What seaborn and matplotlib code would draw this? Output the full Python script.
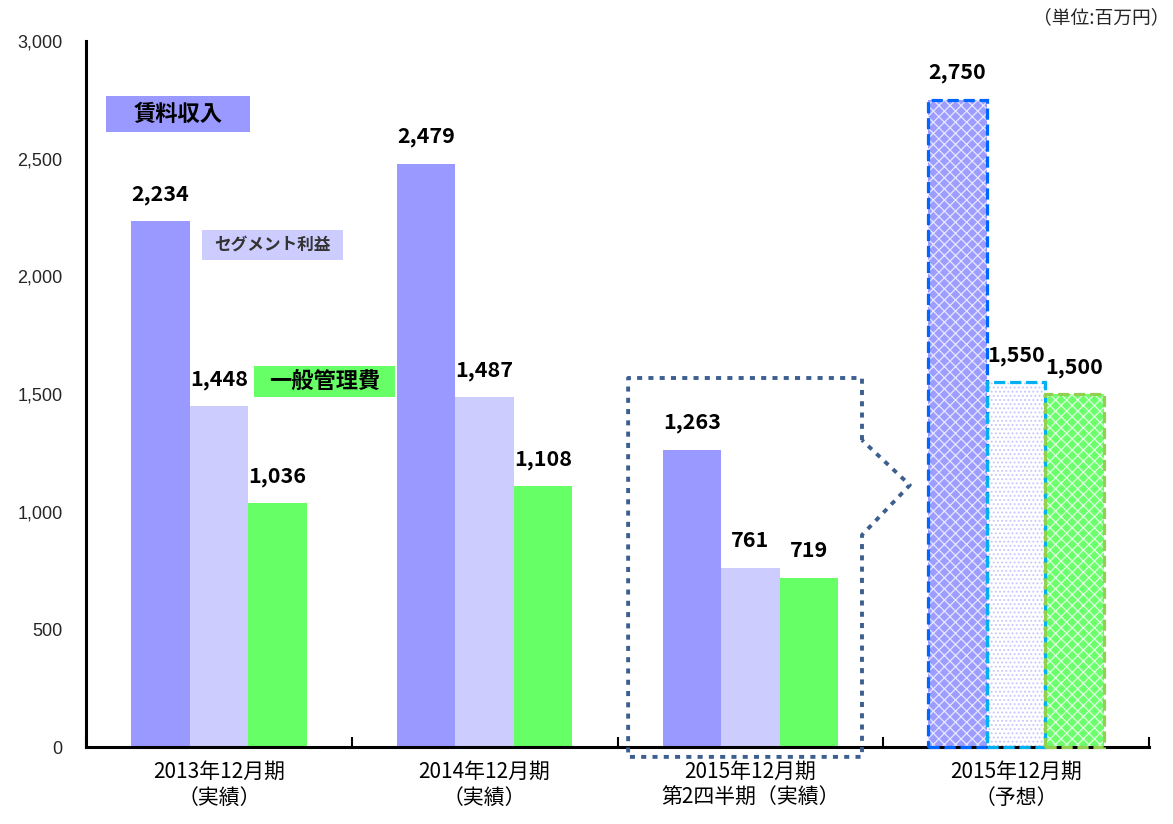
import matplotlib
matplotlib.use("Agg")
import matplotlib.pyplot as plt
from matplotlib.patches import Rectangle
from matplotlib.path import Path
from matplotlib.patches import PathPatch
import seaborn as sns
import pandas as pd

# ---------------- data ----------------
periods = ["2013年12月期\n（実績）", "2014年12月期\n（実績）",
           "2015年12月期\n第2四半期（実績）", "2015年12月期\n（予想）"]
series = ["賃料収入", "セグメント利益", "一般管理費"]
rent_income = [2234, 2479, 1263, 2750]
segment_profit = [1448, 1487, 761, 1550]
admin_cost = [1036, 1108, 719, 1500]
y_ticks = [0, 500, 1000, 1500, 2000, 2500, 3000]
unit_label = "（単位:百万円）"

colors = ["#9999FF", "#CCCCFF", "#66FF66"]
forecast_edge = ["#0066FF", "#00B0F0", "#92D050"]
forecast_face = ["#9D9DFF", "#FFFFFF", "#6CFF6C"]
forecast_hatch_color = ["#E6E6FF", "#C8C8FF", "#E0FFE0"]
forecast_hatch = ["xxx", "....", "xxx"]

df = pd.DataFrame({
    "period": periods * 3,
    "series": [series[0]] * 4 + [series[1]] * 4 + [series[2]] * 4,
    "value": rent_income + segment_profit + admin_cost,
})

# ---------------- style ----------------
sns.set_theme(style="white")
plt.rcParams["font.family"] = ["Noto Sans CJK JP", "DejaVu Sans"]
plt.rcParams["hatch.linewidth"] = 0.9

W, H = 1173, 824
fig = plt.figure(figsize=(W / 100, H / 100), dpi=100)
ax = fig.add_axes([86 / W, 1 - 747 / H, (1149 - 86) / W, (747 - 41) / H])

sns.barplot(data=df, x="period", y="value", hue="series", hue_order=series,
            order=periods, palette=colors, width=0.66, saturation=1,
            legend=False, ax=ax, linewidth=0, err_kws={"linewidth": 0})

ax.set_xlim(-0.5, 3.5)
ax.set_ylim(0, 3000)
ax.set_yticks(y_ticks)
ax.set_yticklabels([f"{v:,}" for v in y_ticks],
                   family=["Liberation Sans", "DejaVu Sans"], fontsize=13)
ax.tick_params(axis="y", length=0, pad=17)
ax.set_xticks(range(len(periods)))
ax.set_xticklabels(periods, fontsize=15, linespacing=1.25)
ax.tick_params(axis="x", which="major", length=0, pad=10, colors="black")
ax.set_xticks([i - 0.5 for i in range(len(periods) + 1)], minor=True)
ax.tick_params(axis="x", which="minor", direction="in", length=7, width=1.5,
               color="black", bottom=True)
ax.set_xlabel("")
ax.set_ylabel("")
for s in ["top", "right"]:
    ax.spines[s].set_visible(False)
for s in ["left", "bottom"]:
    ax.spines[s].set_color("black")
    ax.spines[s].set_linewidth(2.2)
ax.spines["left"].set_zorder(5)
ax.spines["bottom"].set_zorder(5)

# ---------------- forecast bars styling ----------------
for i, cont in enumerate(ax.containers):
    for j, p in enumerate(cont.patches):
        if j == len(periods) - 1:
            p.set_facecolor(forecast_face[i])
            p.set_hatch(forecast_hatch[i])
            p.set_edgecolor(forecast_hatch_color[i])
            p.set_linewidth(0)
            r = Rectangle((p.get_x(), p.get_y()), p.get_width(), p.get_height(),
                          fill=False, edgecolor=forecast_edge[i], linewidth=2.3,
                          linestyle=(0, (3.5, 1.5)), zorder=6, clip_on=False)
            ax.add_patch(r)

# ---------------- value labels ----------------
for i, cont in enumerate(ax.containers):
    for j, p in enumerate(cont.patches):
        val = p.get_height()
        ax.annotate(f"{int(round(val)):,}",
                    xy=(p.get_x() + p.get_width() / 2, val),
                    xytext=(0, 27), textcoords="offset pixels",
                    ha="center", va="center", fontsize=15.5, fontweight="bold",
                    color="black", zorder=7)

# ---------------- dotted bracket around Q2 group ----------------
cx = 2
x_l, x_r, x_tip = cx - 0.46, cx + 0.42, cx + 0.60
y_t, y_b = 1568, -42
y_n1, y_tipy, y_n2 = 1304, 1113, 901
verts = [(x_r, y_n1), (x_r, y_t), (x_l, y_t), (x_l, y_b), (x_r, y_b),
         (x_r, y_n2), (x_tip, y_tipy), (x_r, y_n1)]
path = Path(verts, [Path.MOVETO] + [Path.LINETO] * (len(verts) - 1))
ax.add_patch(PathPatch(path, fill=False, edgecolor="#3D5F8F", linewidth=2.8,
                       linestyle=(0, (1.3, 1.6)), capstyle="butt",
                       joinstyle="round", clip_on=False, zorder=8))


# ---------------- label boxes ----------------
def px_box(x0, y0, x1, y1, color, text, size, tcolor="black"):
    fig.patches.append(Rectangle((x0 / W, 1 - y1 / H), (x1 - x0) / W, (y1 - y0) / H,
                                 transform=fig.transFigure, facecolor=color,
                                 edgecolor="none", zorder=3))
    fig.text((x0 + x1) / 2 / W, 1 - (y0 + y1) / 2 / H, text, ha="center",
             va="center", fontsize=size, fontweight="bold", color=tcolor, zorder=4)


px_box(106, 96, 250, 132, colors[0], series[0], 16)
px_box(202, 230, 343, 260, colors[1], series[1], 12, tcolor="#333333")
px_box(254, 366, 395, 397, colors[2], series[2], 16)

fig.text(1170 / W, 1 - 18 / H, unit_label, ha="right", va="center", fontsize=13.5)

fig.savefig("out.png", dpi=100)
